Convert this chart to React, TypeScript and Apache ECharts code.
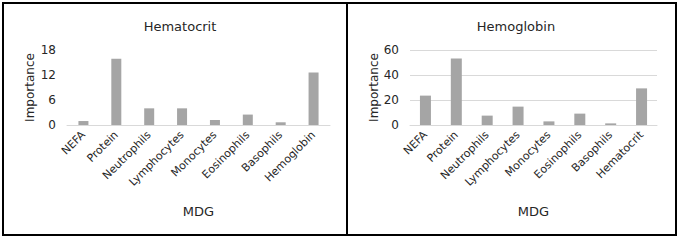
import React, { useEffect, useRef } from "react";
import * as echarts from "echarts";

const leftTitle = "Hematocrit";
const rightTitle = "Hemoglobin";
const leftCategories = ["NEFA", "Protein", "Neutrophils", "Lymphocytes", "Monocytes", "Eosinophils", "Basophils", "Hemoglobin"];
const rightCategories = ["NEFA", "Protein", "Neutrophils", "Lymphocytes", "Monocytes", "Eosinophils", "Basophils", "Hematocrit"];
const leftValues = [0.95, 15.9, 4.0, 4.0, 1.2, 2.5, 0.65, 12.6];
const rightValues = [23.5, 53.2, 7.5, 14.7, 2.9, 9.1, 1.3, 29.3];
const yAxisName = "Importance";
const xAxisName = "MDG";

const FONT = "DejaVu Sans";
const TXT = "#262626";

export default function App() {
  const ref = useRef<HTMLDivElement>(null);
  useEffect(() => {
    if (!ref.current) return;
    const chart = echarts.init(ref.current, undefined, { renderer: "svg" });
    const xAxisCommon = (cats: string[], gi: number) => ({
      type: "category",
      gridIndex: gi,
      data: cats,
      name: xAxisName,
      nameLocation: "middle",
      nameGap: 80,
      nameTextStyle: { fontFamily: FONT, fontSize: 13, color: TXT },
      axisLine: { lineStyle: { color: "#d9d9d9", width: 1 } },
      axisTick: { show: false },
      axisLabel: { rotate: 45, fontFamily: FONT, fontSize: 11, color: TXT, margin: 8, interval: 0 },
    });
    const yAxisCommon = (gi: number, max: number, interval: number, split: boolean, gap: number) => ({
      type: "value",
      gridIndex: gi,
      min: 0,
      max,
      interval,
      name: yAxisName,
      nameLocation: "middle",
      nameGap: gap,
      nameTextStyle: { fontFamily: FONT, fontSize: 12, color: TXT },
      axisLine: { show: false },
      axisTick: { show: false },
      axisLabel: { fontFamily: FONT, fontSize: 12, color: TXT, margin: 11 },
      splitLine: { show: split, lineStyle: { color: "#d9d9d9", width: 1 } },
    });
    chart.setOption({
      animation: false,
      backgroundColor: "#ffffff",
      title: [
        { text: leftTitle, left: 175, top: 15, textAlign: "center", textStyle: { fontFamily: FONT, fontSize: 13, fontWeight: "normal", color: TXT } },
        { text: rightTitle, left: 511, top: 15, textAlign: "center", textStyle: { fontFamily: FONT, fontSize: 13, fontWeight: "normal", color: TXT } },
      ],
      grid: [
        { left: 67, right: 352, top: 50, bottom: 116, containLabel: false },
        { left: 410, right: 25, top: 50, bottom: 116, containLabel: false },
      ],
      xAxis: [xAxisCommon(leftCategories, 0), xAxisCommon(rightCategories, 1)],
      yAxis: [yAxisCommon(0, 18, 6, false, 31), yAxisCommon(1, 60, 20, true, 30)],
      series: [
        { type: "bar", xAxisIndex: 0, yAxisIndex: 0, data: leftValues, barWidth: 10, itemStyle: { color: "#a5a5a5" } },
        { type: "bar", xAxisIndex: 1, yAxisIndex: 1, data: rightValues, barWidth: 11, itemStyle: { color: "#a5a5a5" } },
      ],
      graphic: [
        { type: "rect", shape: { x: 3, y: 3, width: 673, height: 232 }, style: { fill: "none", stroke: "#000", lineWidth: 2 } },
        { type: "line", shape: { x1: 347, y1: 3, x2: 347, y2: 235 }, style: { stroke: "#000", lineWidth: 2 } },
      ],
    });
    return () => chart.dispose();
  }, []);
  return <div ref={ref} style={{ position: "absolute", left: 0, top: 0, width: 682, height: 241 }} />;
}
